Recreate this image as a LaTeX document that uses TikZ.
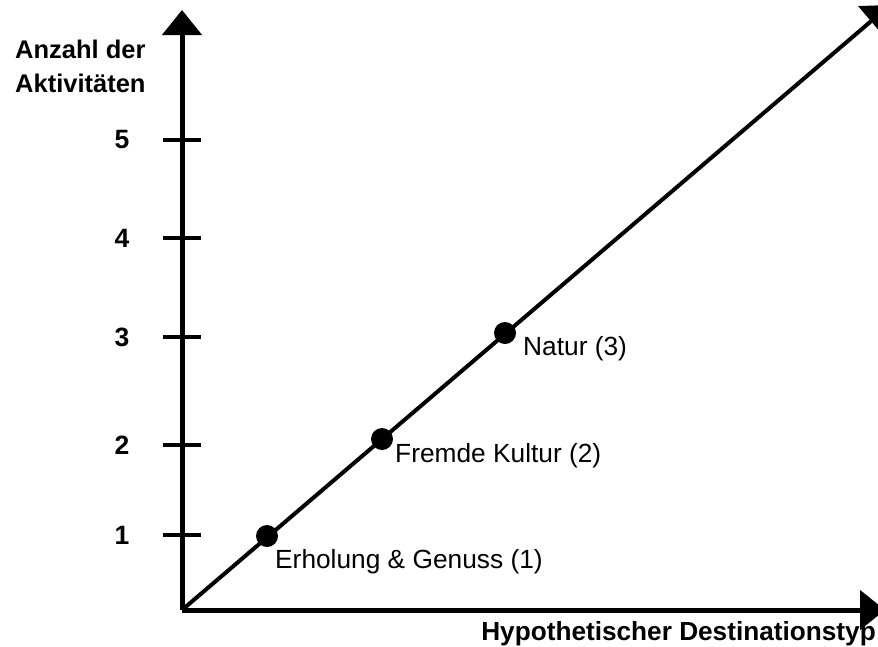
\documentclass[tikz,border=0pt]{standalone}
\usepackage{fontspec}
\setmainfont{Liberation Sans}
\usetikzlibrary{arrows.meta}
\begin{document}
\begin{tikzpicture}[x=1pt,y=-1pt,
  axis/.style={line width=5pt,-{Triangle[length=25pt,width=39pt]}},
  diag/.style={line width=4pt,-{Triangle[length=25pt,width=39pt]}},
  tick/.style={line width=4pt},
  dot/.style={circle,fill=black,inner sep=0pt,minimum size=22pt},
  ticklabel/.style={font=\fontsize{26.5}{30}\selectfont\bfseries,inner sep=0pt},
  axislabel/.style={font=\fontsize{25.5}{34}\selectfont\bfseries,inner sep=0pt,align=left},
  pointlabel/.style={font=\fontsize{26.3}{30}\selectfont,inner sep=0pt,anchor=west}]
\useasboundingbox (0,0) rectangle (878,646);
\clip (0,0) rectangle (878,646);

% axes
\coordinate (O) at (182,610);
\coordinate (ytip) at (182,10);
\coordinate (xtip) at (885,610);
\coordinate (dtip) at (890,5);
\draw[axis] (O) -- (ytip);
\draw[axis] (O) -- (xtip);
\draw[diag] (O) -- (dtip);

% ticks and their values
\foreach \v/\y in {1/535,2/445,3/337,4/238,5/140}{
  \coordinate (tl\v) at (163,\y);
  \coordinate (tr\v) at (201,\y);
  \draw[tick] (tl\v) -- (tr\v);
  \node[ticklabel] (v\v) at (122,\y) {\v};
}

% axis titles (base anchor sits on the last line)
\node[axislabel,anchor=base west] (ylab) at (15,92) {Anzahl der\\Aktivitäten};
\node[axislabel,anchor=base east,font=\fontsize{26.2}{30}\selectfont\bfseries] (xlab) at (876,640) {Hypothetischer Destinationstyp};

% destination types
\node[dot] (p1) at (267,536) {};
\node[dot] (p2) at (382,439) {};
\node[dot] (p3) at (505,333) {};
\node[pointlabel] (l1) at (275,562) {Erholung \& Genuss (1)};
\node[pointlabel] (l2) at (395,456) {Fremde Kultur (2)};
\node[pointlabel] (l3) at (523,349) {Natur (3)};
\end{tikzpicture}
\end{document}
